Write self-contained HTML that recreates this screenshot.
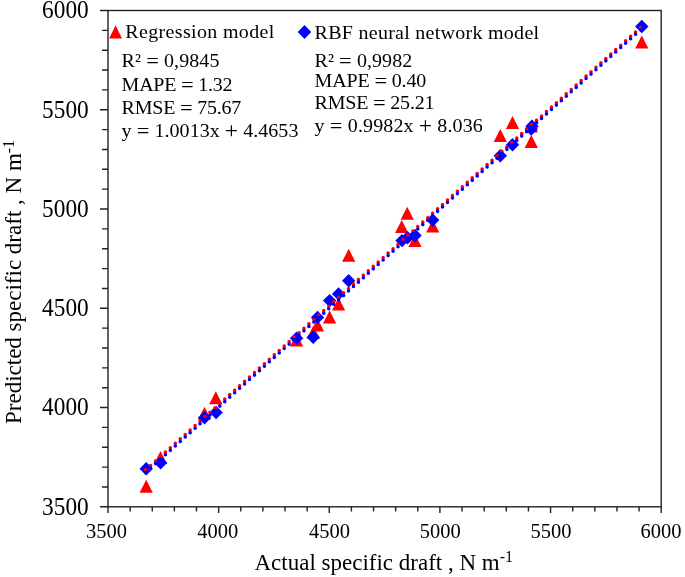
<!DOCTYPE html>
<html><head><meta charset="utf-8"><style>
html,body{margin:0;padding:0;background:#fff;}
body{width:685px;height:577px;overflow:hidden;position:relative;}
svg{position:absolute;left:0;top:0;will-change:transform;}
text{font-family:"Liberation Serif",serif;fill:#000;}
</style></head><body>
<svg width="685" height="577" viewBox="0 0 685 577">
<rect x="0" y="0" width="685" height="577" fill="#fff"/>
<g fill="#ff0000"><path d="M146.20 479.70L152.80 492.70L139.60 492.70Z"/><path d="M160.50 450.90L167.10 463.90L153.90 463.90Z"/><path d="M204.50 406.80L211.10 419.80L197.90 419.80Z"/><path d="M215.80 391.30L222.40 404.30L209.20 404.30Z"/><path d="M296.60 333.60L303.20 346.60L290.00 346.60Z"/><path d="M313.30 325.70L319.90 338.70L306.70 338.70Z"/><path d="M317.50 318.50L324.10 331.50L310.90 331.50Z"/><path d="M329.60 310.60L336.20 323.60L323.00 323.60Z"/><path d="M338.60 297.40L345.20 310.40L332.00 310.40Z"/><path d="M348.70 248.80L355.30 261.80L342.10 261.80Z"/><path d="M407.20 206.80L413.80 219.80L400.60 219.80Z"/><path d="M401.70 220.00L408.30 233.00L395.10 233.00Z"/><path d="M415.00 234.10L421.60 247.10L408.40 247.10Z"/><path d="M432.70 219.60L439.30 232.60L426.10 232.60Z"/><path d="M512.50 116.10L519.10 129.10L505.90 129.10Z"/><path d="M500.30 129.10L506.90 142.10L493.70 142.10Z"/><path d="M531.30 135.10L537.90 148.10L524.70 148.10Z"/><path d="M531.50 119.50L538.10 132.50L524.90 132.50Z"/><path d="M641.80 35.40L648.40 48.40L635.20 48.40Z"/></g>
<g fill="#0000ff"><path d="M146.20 462.00L152.90 468.70L146.20 475.40L139.50 468.70Z"/><path d="M160.60 456.00L167.30 462.70L160.60 469.40L153.90 462.70Z"/><path d="M204.50 411.00L211.20 417.70L204.50 424.40L197.80 417.70Z"/><path d="M216.10 405.80L222.80 412.50L216.10 419.20L209.40 412.50Z"/><path d="M296.60 331.50L303.30 338.20L296.60 344.90L289.90 338.20Z"/><path d="M313.20 330.60L319.90 337.30L313.20 344.00L306.50 337.30Z"/><path d="M317.50 310.70L324.20 317.40L317.50 324.10L310.80 317.40Z"/><path d="M329.60 293.90L336.30 300.60L329.60 307.30L322.90 300.60Z"/><path d="M338.60 287.20L345.30 293.90L338.60 300.60L331.90 293.90Z"/><path d="M348.70 274.00L355.40 280.70L348.70 287.40L342.00 280.70Z"/><path d="M402.00 233.90L408.70 240.60L402.00 247.30L395.30 240.60Z"/><path d="M407.50 231.10L414.20 237.80L407.50 244.50L400.80 237.80Z"/><path d="M415.00 228.80L421.70 235.50L415.00 242.20L408.30 235.50Z"/><path d="M432.70 213.40L439.40 220.10L432.70 226.80L426.00 220.10Z"/><path d="M500.30 149.10L507.00 155.80L500.30 162.50L493.60 155.80Z"/><path d="M512.50 138.10L519.20 144.80L512.50 151.50L505.80 144.80Z"/><path d="M532.00 119.50L538.70 126.20L532.00 132.90L525.30 126.20Z"/><path d="M531.20 122.30L537.90 129.00L531.20 135.70L524.50 129.00Z"/><path d="M641.80 19.80L648.50 26.50L641.80 33.20L635.10 26.50Z"/></g>
<line x1="145.6" y1="469.86" x2="642.0" y2="26.17" stroke="#ff0000" stroke-width="3.6" stroke-linecap="round" stroke-dasharray="0 6.6378"/>
<line x1="145.6" y1="472.47" x2="642.0" y2="28.52" stroke="#0000ff" stroke-width="3.6" stroke-linecap="round" stroke-dasharray="0 6.6396"/>
<rect x="108" y="10.5" width="553.20" height="496.30" fill="none" stroke="#222" stroke-width="1.4"/>
<path d="M100 506.80H108 M102 486.95H108 M102 467.10H108 M102 447.24H108 M102 427.39H108 M100 407.54H108 M102 387.69H108 M102 367.84H108 M102 347.98H108 M102 328.13H108 M100 308.28H108 M102 288.43H108 M102 268.58H108 M102 248.72H108 M102 228.87H108 M100 209.02H108 M102 189.17H108 M102 169.32H108 M102 149.46H108 M102 129.61H108 M100 109.76H108 M102 89.91H108 M102 70.06H108 M102 50.20H108 M102 30.35H108 M100 10.50H108 M108.00 506.8V513 M130.13 506.8V511.5 M152.26 506.8V511.5 M174.38 506.8V511.5 M196.51 506.8V511.5 M218.64 506.8V513 M240.77 506.8V511.5 M262.90 506.8V511.5 M285.02 506.8V511.5 M307.15 506.8V511.5 M329.28 506.8V513 M351.41 506.8V511.5 M373.54 506.8V511.5 M395.66 506.8V511.5 M417.79 506.8V511.5 M439.92 506.8V513 M462.05 506.8V511.5 M484.18 506.8V511.5 M506.30 506.8V511.5 M528.43 506.8V511.5 M550.56 506.8V513 M572.69 506.8V511.5 M594.82 506.8V511.5 M616.94 506.8V511.5 M639.07 506.8V511.5 M661.20 506.8V513" stroke="#222" stroke-width="1.4" fill="none"/>
<g font-size="24"><text transform="translate(88.7 514.60) scale(0.972 1.05)" text-anchor="end">3500</text><text transform="translate(88.7 415.34) scale(0.972 1.05)" text-anchor="end">4000</text><text transform="translate(88.7 316.08) scale(0.972 1.05)" text-anchor="end">4500</text><text transform="translate(88.7 216.82) scale(0.972 1.05)" text-anchor="end">5000</text><text transform="translate(88.7 117.56) scale(0.972 1.05)" text-anchor="end">5500</text><text transform="translate(88.7 18.30) scale(0.972 1.05)" text-anchor="end">6000</text></g>
<g font-size="20.5"><text x="106.60" y="538.3" text-anchor="middle">3500</text><text x="217.64" y="538.3" text-anchor="middle">4000</text><text x="329.48" y="538.3" text-anchor="middle">4500</text><text x="440.32" y="538.3" text-anchor="middle">5000</text><text x="551.06" y="538.3" text-anchor="middle">5500</text><text x="661.00" y="538.3" text-anchor="middle">6000</text></g>
<text x="254.5" y="569.8" font-size="23">Actual specific draft , N m<tspan font-size="16" dy="-7.5">-1</tspan></text>
<text transform="translate(21 424) rotate(-90)" font-size="23">Predicted specific draft , N m<tspan font-size="16" dy="-7.5">-1</tspan></text>
<path d="M115.6 25.3L122 38.4L109.2 38.4Z" fill="#ff0000"/>
<path d="M304.5 25L311.2 32L304.5 39.1L297.7 32Z" fill="#0000ff"/>
<g font-size="20">
<text transform="translate(125.3 38.4) scale(1 0.95)" textLength="149" lengthAdjust="spacing">Regression model</text>
<text transform="translate(314.6 38.8) scale(1 0.95)" textLength="224.5" lengthAdjust="spacing">RBF neural network model</text>
<text transform="translate(121.6 67.3) scale(1 0.95)" textLength="97.8" lengthAdjust="spacing">R² <tspan font-size="22.5" dy="0.9">=</tspan><tspan dy="-0.9"> </tspan>0,9845</text>
<text transform="translate(121.6 91.4) scale(1 0.95)" textLength="110.8" lengthAdjust="spacing">MAPE <tspan font-size="22.5" dy="0.9">=</tspan><tspan dy="-0.9"> </tspan>1.32</text>
<text transform="translate(121.6 113.7) scale(1 0.95)" textLength="119.7" lengthAdjust="spacing">RMSE <tspan font-size="22.5" dy="0.9">=</tspan><tspan dy="-0.9"> </tspan>75.67</text>
<text transform="translate(121.6 136.7) scale(1 0.95)" textLength="176.8" lengthAdjust="spacing">y <tspan font-size="22.5" dy="0.9">=</tspan><tspan dy="-0.9"> </tspan>1.0013x <tspan font-size="23.5" dy="1.2">+</tspan><tspan dy="-1.2"> 4.4653</tspan></text>
<text transform="translate(314.6 67.0) scale(1 0.95)" textLength="97.6" lengthAdjust="spacing">R² <tspan font-size="22.5" dy="0.9">=</tspan><tspan dy="-0.9"> </tspan>0,9982</text>
<text transform="translate(314.6 87.0) scale(1 0.95)" textLength="111.7" lengthAdjust="spacing">MAPE <tspan font-size="22.5" dy="0.9">=</tspan><tspan dy="-0.9"> </tspan>0.40</text>
<text transform="translate(314.6 109.4) scale(1 0.95)" textLength="119.9" lengthAdjust="spacing">RMSE <tspan font-size="22.5" dy="0.9">=</tspan><tspan dy="-0.9"> </tspan>25.21</text>
<text transform="translate(314.6 131.8) scale(1 0.95)" textLength="168.2" lengthAdjust="spacing">y <tspan font-size="22.5" dy="0.9">=</tspan><tspan dy="-0.9"> </tspan>0.9982x <tspan font-size="23.5" dy="1.2">+</tspan><tspan dy="-1.2"> 8.036</tspan></text>
</g>
</svg>
</body></html>
